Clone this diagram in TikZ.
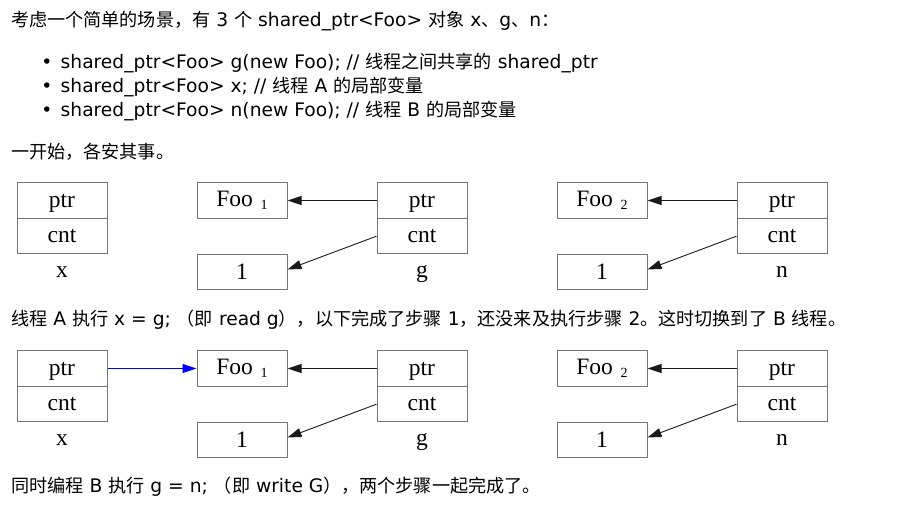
\documentclass[tikz,border=0pt]{standalone}
\usepackage{fontspec}
\setmainfont{DejaVu Sans}
\newfontfamily\cjk[Scale=0.97]{Noto Sans CJK SC}
\newfontfamily\dgfont{Liberation Serif}
\usetikzlibrary{arrows.meta}
\newcommand\zh[1]{{\cjk #1}}
\newcommand\subone[1]{\hspace{0.33em}{\fontsize{14}{14}\selectfont\raisebox{-3.3pt}{#1}}}
\definecolor{boxgray}{HTML}{767676}
\definecolor{edgecol}{HTML}{1a1a1a}
\begin{document}
\begin{tikzpicture}[x=1pt,y=-1pt,
  txt/.style={anchor=base west, inner sep=0pt, font=\fontsize{18.67}{22}\selectfont},
  bul/.style={anchor=base, inner sep=0pt, font=\fontsize{18.67}{22}\selectfont},
  cell/.style={draw=boxgray, line width=1pt, minimum width=90pt, minimum height=35.5pt, inner sep=0pt, text height=13.5pt, text depth=0pt, font=\dgfont\fontsize{23.5}{23.5}\selectfont},
  obj/.style={draw=boxgray, line width=1pt, minimum width=90pt, minimum height=35.5pt, inner sep=0pt, font=\dgfont\fontsize{23.5}{23.5}\selectfont},
  lbl/.style={anchor=base, inner sep=0pt, font=\dgfont\fontsize{23.5}{23.5}\selectfont},
  edge/.style={draw=edgecol, line width=0.9pt, -{Triangle[length=14pt,width=9pt]}},
  blueedge/.style={draw=blue, line width=0.9pt, -{Triangle[length=14pt,width=9pt]}}]
\fill[white] (0,0) rectangle (918,504);
\useasboundingbox (0,0) rectangle (918,504);

% texts
\node[txt] (t1) at (11,26.7) {\zh{考虑一个简单的场景，有} 3 \zh{个} shared\_ptr<Foo> \zh{对象} x\zh{、}g\zh{、}n\zh{：}};
\node[bul] (b1) at (47,68.3) {•};
\node[bul] (b2) at (47,92.3) {•};
\node[bul] (b3) at (47,116.3) {•};
\node[txt] (l1) at (60.5,68.3) {shared\_ptr<Foo> g(new Foo); // \zh{线程之间共享的} shared\_ptr};
\node[txt] (l2) at (60.5,92.3) {shared\_ptr<Foo> x; // \zh{线程} A \zh{的局部变量}};
\node[txt] (l3) at (60.5,116.3) {shared\_ptr<Foo> n(new Foo); // \zh{线程} B \zh{的局部变量}};
\node[txt] (t2) at (11,158) {\zh{一开始，各安其事。}};
\node[txt] (t3) at (11,325.7) {\zh{线程} A \zh{执行} x = g; \zh{（即} read g\zh{），以下完成了步骤} 1\zh{，还没来及执行步骤} 2\zh{。这时切换到了} B \zh{线程。}};
\node[txt] (t4) at (11,492.7) {\zh{同时编程} B \zh{执行} g = n; \zh{（即} write G\zh{），两个步骤一起完成了。}};

% diagrams
\foreach \r/\dy in {a/0, b/168}{
  \begin{scope}[shift={(0,\dy)}]
    \node[cell] (xptr\r) at (62,200.5) {ptr};
    \node[cell] (xcnt\r) at (62,236.2) {cnt};
    \node[lbl]  (xl\r)   at (62,277) {x};
    \node[obj]  (fooa\r) at (242,200.5) {Foo\subone{1}};
    \node[obj]  (onea\r) at (242,272) {1};
    \node[cell] (gptr\r) at (422,200.5) {ptr};
    \node[cell] (gcnt\r) at (422,236.2) {cnt};
    \node[lbl]  (gl\r)   at (422,277) {g};
    \node[obj]  (foob\r) at (602,200.5) {Foo\subone{2}};
    \node[obj]  (oneb\r) at (602,272) {1};
    \node[cell] (nptr\r) at (782,200.5) {ptr};
    \node[cell] (ncnt\r) at (782,236.2) {cnt};
    \node[lbl]  (nl\r)   at (782,277) {n};
    \draw[edge] (gptr\r.west) -- (fooa\r.east);
    \draw[edge] (gcnt\r.west) -- ([yshift=2.5pt]onea\r.east);
    \draw[edge] (nptr\r.west) -- (foob\r.east);
    \draw[edge] (ncnt\r.west) -- ([yshift=2.5pt]oneb\r.east);
  \end{scope}
}
\draw[blueedge] (xptrb.east) -- (fooab.west);
\end{tikzpicture}
\end{document}
